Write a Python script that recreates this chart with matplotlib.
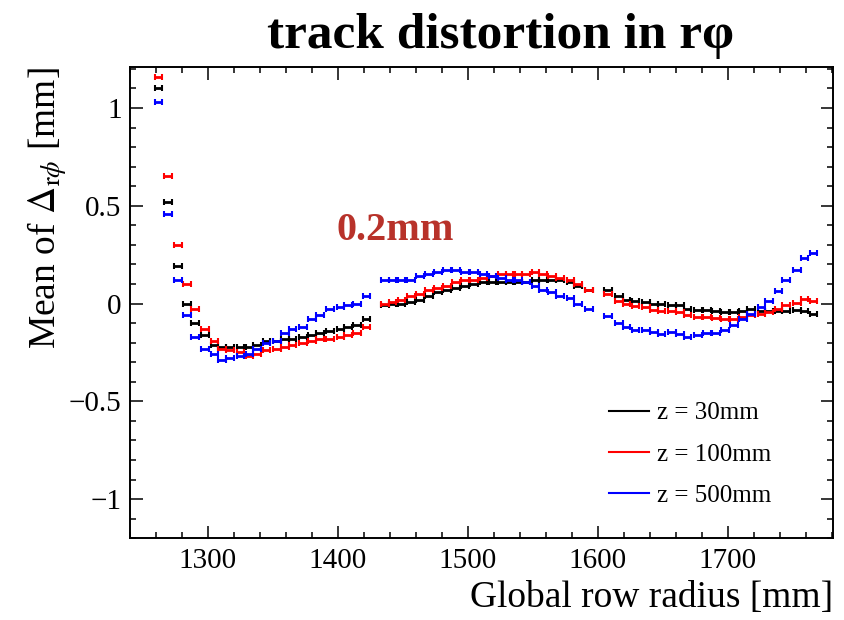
import matplotlib
matplotlib.use("Agg")
import matplotlib.pyplot as plt
from matplotlib.lines import Line2D
from matplotlib.ticker import MultipleLocator, FixedLocator, FuncFormatter

plt.rcParams['font.family'] = ['Liberation Serif', 'DejaVu Serif']
plt.rcParams['mathtext.fontset'] = 'stix'

# row radius [mm] for the three pad-row sections
radius = [1262, 1269, 1277, 1284, 1290, 1298, 1305, 1311, 1317, 1325, 1332, 1338,
          1345, 1353, 1359, 1365, 1373, 1380, 1386, 1394, 1402, 1408, 1415, 1422,
          1436, 1442, 1449, 1456, 1463, 1470, 1477, 1484, 1491, 1498, 1505, 1512,
          1519, 1526, 1532, 1539, 1545, 1552, 1558, 1565, 1571, 1579, 1585, 1593,
          1608, 1616, 1622, 1629, 1637, 1643, 1649, 1657, 1663, 1669, 1677, 1684,
          1691, 1698, 1705, 1712, 1718, 1726, 1732, 1739, 1745, 1753, 1759, 1766]

# mean of delta r-phi [mm]
z30 = [1.10, 0.52, 0.19, 0.00, -0.10, -0.16, -0.21, -0.22, -0.22, -0.22, -0.22, -0.21,
       -0.19, -0.19, -0.18, -0.18, -0.17, -0.16, -0.15, -0.14, -0.13, -0.12, -0.11, -0.08,
       -0.01, 0.00, 0.00, 0.01, 0.02, 0.04, 0.06, 0.07, 0.08, 0.09, 0.10, 0.11,
       0.11, 0.11, 0.11, 0.11, 0.11, 0.12, 0.12, 0.12, 0.12, 0.11, 0.09, 0.07,
       0.07, 0.04, 0.02, 0.015, 0.01, 0.0, -0.002, -0.005, -0.005, -0.027, -0.032, -0.032,
       -0.036, -0.045, -0.045, -0.036, -0.027, -0.036, -0.036, -0.04, -0.036, -0.032, -0.04, -0.053]
z100 = [1.16, 0.65, 0.30, 0.10, -0.03, -0.13, -0.19, -0.23, -0.24, -0.25, -0.27, -0.26,
        -0.24, -0.23, -0.22, -0.21, -0.20, -0.19, -0.18, -0.18, -0.17, -0.16, -0.15, -0.12,
        0.00, 0.01, 0.02, 0.04, 0.05, 0.07, 0.08, 0.09, 0.11, 0.12, 0.12, 0.13,
        0.14, 0.15, 0.15, 0.15, 0.15, 0.16, 0.15, 0.14, 0.13, 0.12, 0.10, 0.07,
        0.05, 0.015, -0.002, -0.015, -0.02, -0.032, -0.036, -0.036, -0.045, -0.06, -0.07, -0.07,
        -0.074, -0.078, -0.078, -0.07, -0.06, -0.053, -0.045, -0.027, -0.01, 0.005, 0.024, 0.015]
z500 = [1.03, 0.46, 0.12, -0.06, -0.17, -0.23, -0.26, -0.29, -0.28, -0.27, -0.26, -0.23,
        -0.20, -0.19, -0.15, -0.13, -0.12, -0.08, -0.06, -0.03, -0.02, -0.01, 0.00, 0.04,
        0.12, 0.12, 0.12, 0.12, 0.14, 0.15, 0.16, 0.17, 0.17, 0.16, 0.16, 0.15,
        0.14, 0.13, 0.12, 0.12, 0.11, 0.09, 0.07, 0.06, 0.04, 0.03, 0.00, -0.03,
        -0.065, -0.10, -0.12, -0.135, -0.135, -0.144, -0.155, -0.146, -0.155, -0.17, -0.16, -0.15,
        -0.15, -0.135, -0.11, -0.078, -0.056, -0.02, 0.015, 0.063, 0.12, 0.17, 0.234, 0.258]

series = [(z30, 'black', 'z = 30mm'), (z100, 'red', 'z = 100mm'), (z500, 'blue', 'z = 500mm')]

fig = plt.figure(figsize=(8.44, 6.2), dpi=100)
ax = fig.add_axes([0.154, 0.132, 0.833, 0.760])

for vals, col, lab in series:
    ax.errorbar(radius, vals, xerr=3.0, fmt='none', ecolor=col, elinewidth=2.0,
                capsize=2.5, capthick=1.5)

ax.set_xlim(1240, 1781)
ax.set_ylim(-1.2, 1.21)

ax.xaxis.set_major_locator(MultipleLocator(100))
ax.xaxis.set_minor_locator(MultipleLocator(20))
ax.yaxis.set_major_locator(FixedLocator([-1, -0.5, 0, 0.5, 1]))
ax.yaxis.set_minor_locator(MultipleLocator(0.1))
ax.yaxis.set_major_formatter(FuncFormatter(lambda v, p: f"{v:g}".replace('-', '\u2212')))

ax.tick_params(which='both', direction='in', top=True, right=True, width=1.1, labelsize=21)
ax.tick_params(which='major', length=9)
ax.tick_params(which='minor', length=4.5)
ax.tick_params(axis='x', pad=7)
ax.tick_params(axis='y', pad=6)
for s in ax.spines.values():
    s.set_linewidth(1.4)

ax.set_xlabel('Global row radius [mm]', fontsize=27, loc='right')
ax.xaxis.set_label_coords(1.0, -0.09)
ax.set_ylabel(r'Mean of $\Delta_{\mathrm{r}\phi}$ [mm]', fontsize=27, loc='top')
ax.yaxis.set_label_coords(-0.087, 1.0)

ax.text(1399, 0.374, '0.2mm', color='#b8322a', fontsize=29, fontweight='bold',
        ha='left', va='center')

fig.text(0.593, 0.942, 'track distortion in r\u03c6', fontsize=37, fontweight='bold',
         ha='center', va='center')

handles = [Line2D([], [], color=col, lw=1.5) for _, col, _ in series]
labels = [lab for _, _, lab in series]
fig.legend(handles, labels, loc='upper left', bbox_to_anchor=(0.722, 0.352),
           frameon=False, fontsize=18, handlelength=1.6, handletextpad=0.3,
           labelspacing=0.75, borderpad=0, borderaxespad=0)

fig.savefig('out.png', dpi=100)
